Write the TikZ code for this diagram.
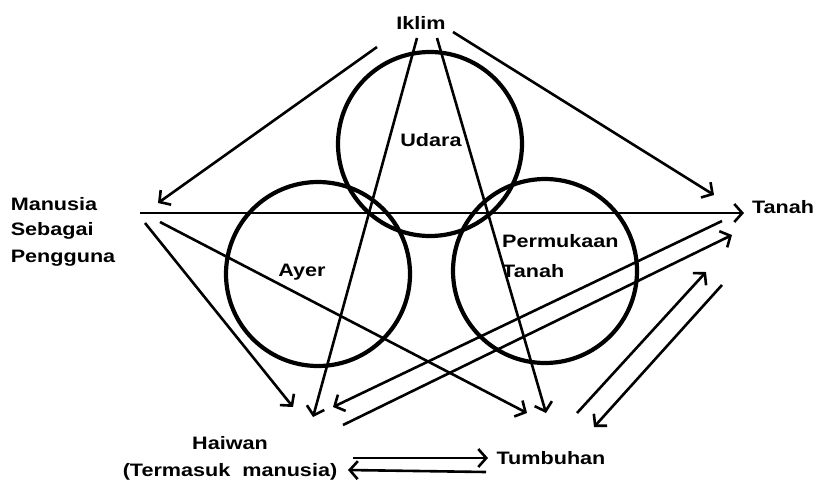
\documentclass[tikz,border=0pt]{standalone}
\usepackage{fontspec}
\setmainfont{Liberation Sans}[FakeStretch=1.2]
\usepackage{tikz}
\usetikzlibrary{arrows.meta,calc}
\tikzset{
  teks/.style={font=\fontsize{18}{25}\selectfont\bfseries,inner sep=0pt,align=center},
  lingkar/.style={draw,circle,line width=4.2pt,inner sep=0pt,minimum size=184pt},
  panah/.style={->,line width=2.6pt},
}

\begin{document}
\begin{tikzpicture}[x=1pt,y=-1pt,>={Straight Barb[length=8pt,width=18pt]}]
  \useasboundingbox (0,0) rectangle (818,480);

  \node[lingkar] (udara)     at (430,144) {};
  \node[lingkar] (ayer)      at (318,274) {};
  \node[lingkar] (permukaan) at (545,271) {};

  \node[teks] (udaratks) at (431,140) {Udara};
  \node[teks] (ayertks)  at (302,272) {Ayer};
  \node[teks,align=left,anchor=north west] (permtks) at (502,234) {Permukaan\\[5pt]Tanah};

  \node[teks] (iklim)    at (421,23)  {Iklim};
  \node[teks,align=left] (manusia) at (63,232) {Manusia\\Sebagai\\[2pt]Pengguna};
  \node[teks] (tanah)    at (783,207) {Tanah};
  \node[teks] (haiwan)   at (230,458) {Haiwan\\[2pt](Termasuk\ \ manusia)};
  \node[teks] (tumbuhan) at (551,458) {Tumbuhan};

  \draw[panah] ($(iklim)+(-44,24)$) -- ($(manusia)+(95,-29)$);
  \draw[panah] ($(iklim)+(32,9)$)   -- ($(tanah)+(-69,-12)$);
  \draw[panah] ($(iklim)+(-4,15)$)  -- ($(haiwan)+(83,-41)$);
  \draw[panah] ($(iklim)+(16,15)$)  -- ($(tumbuhan)+(-5,-45)$);

  \draw[panah] ($(manusia)+(77,-19)$) -- ($(tanah)+(-39,6)$);
  \draw[panah] ($(manusia)+(82,-9)$)  -- ($(haiwan)+(63,-51)$);
  \draw[panah] ($(manusia)+(97,-10)$) -- ($(tumbuhan)+(-24,-45)$);

  \draw[panah] ($(tanah)+(-61,14)$)  -- ($(haiwan)+(103,-51)$);
  \draw[panah] ($(haiwan)+(113,-33)$) -- ($(tanah)+(-51,28)$);
  \draw[panah] ($(tumbuhan)+(26,-45)$) -- ($(tanah)+(-77,65)$);
  \draw[panah] ($(tanah)+(-61,78)$)  -- ($(tumbuhan)+(43,-31)$);

  \draw[panah] ($(haiwan)+(123,0)$)    -- ($(tumbuhan)+(-63,0)$);
  \draw[panah] ($(tumbuhan)+(-65,14)$) -- ($(haiwan)+(118,12)$);
\end{tikzpicture}
\end{document}
